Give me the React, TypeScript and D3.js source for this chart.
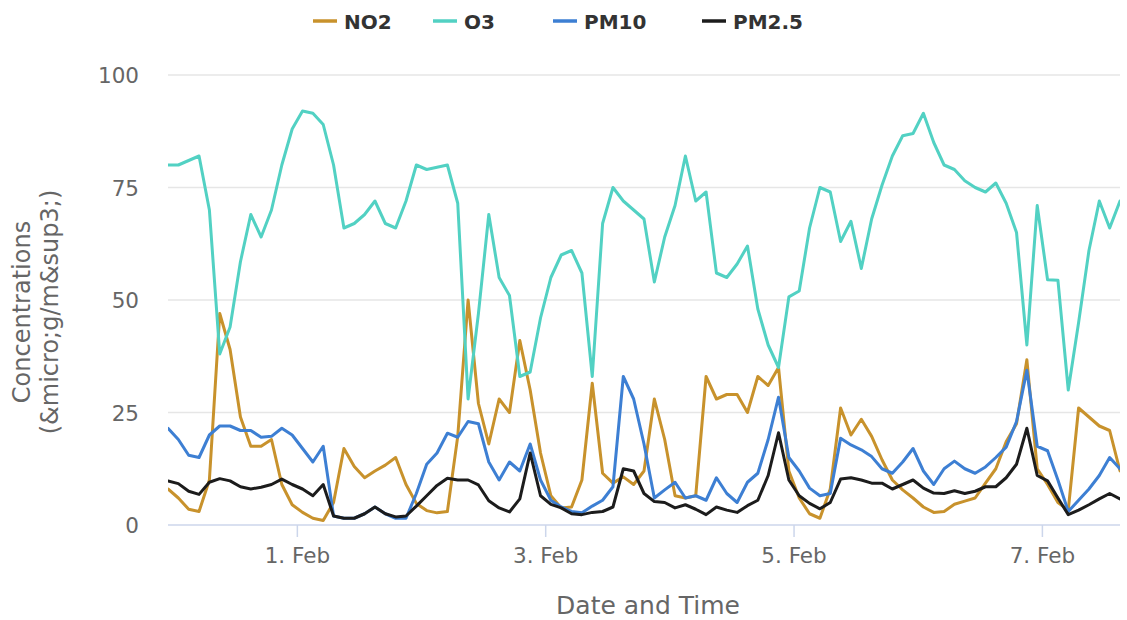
import React from "react";
import * as d3 from "d3";

const START = Date.UTC(2019, 0, 30, 23, 0, 0);
const STEP_H = 2;
const END = Date.UTC(2019, 1, 7, 15, 0, 0);

const seriesNames = ["NO2", "O3", "PM10", "PM2.5"];
const seriesColors = ["#c8922c", "#52d1c3", "#3d7fd3", "#1c1c1c"];

const no2 = [8, 6, 3.5, 3, 10, 47, 39, 24, 17.5, 17.5, 19, 9, 4.5, 2.8, 1.5, 1, 5, 17, 13, 10.5, 12, 13.3, 15, 9, 4.8, 3.2, 2.7, 3, 19.7, 50, 27, 18, 28, 25, 41, 30, 16, 6.5, 3.8, 4, 10, 31.5, 11.5, 9.3, 10.7, 9, 12, 28, 19, 6.5, 6, 6.5, 33, 28, 29, 29, 25, 33, 31, 35, 12, 6, 2.5, 1.5, 8, 26, 20, 23.5, 19.7, 14.5, 10, 7.8, 6, 4, 2.8, 3, 4.6, 5.3, 6, 9.3, 12.5, 18.5, 22.5, 36.7, 12.5, 9, 5, 3.3, 26, 24, 22, 21, 12];

const o3 = [80, 80, 81, 82, 70, 38, 44, 58.5, 69, 64, 70, 80, 88, 92, 91.5, 89, 80, 66, 67, 69, 72, 67, 66, 72, 80, 79, 79.5, 80, 71.5, 28, 47, 69, 55, 51, 33, 34, 46, 55, 60, 61, 56, 33, 67, 75, 72, 70, 68, 54, 64, 71, 82, 72, 74, 56, 55, 58, 62, 48, 40, 35, 50.7, 52, 66, 75, 74, 63, 67.5, 57, 68, 75.5, 82, 86.5, 87, 91.5, 85, 80, 79, 76.5, 75, 74, 76, 71.5, 65, 40, 71, 54.5, 54.4, 30, 45, 61, 72, 66, 72];

const pm10 = [21.5, 19, 15.5, 15, 20, 22, 22, 21, 21, 19.5, 19.7, 21.5, 20, 17, 14, 17.5, 2, 1.5, 1.5, 2.5, 4, 2.5, 1.5, 1.5, 7, 13.5, 16, 20.4, 19.5, 23, 22.5, 14, 10, 14, 12, 18, 10, 5.5, 4, 3, 2.7, 4.2, 5.5, 8.5, 33, 28, 18, 6, 7.8, 9.5, 6, 6.5, 5.5, 10.5, 7, 5, 9.5, 11.5, 19, 28.4, 15, 12, 8.2, 6.5, 7, 19.3, 17.8, 16.7, 15.2, 12.5, 11.5, 14, 17, 12, 9, 12.5, 14.2, 12.5, 11.5, 12.9, 15, 17.3, 23, 34.4, 17.5, 16.5, 10, 3, 5.5, 8, 11, 15, 12.5];

const pm25 = [9.8, 9.2, 7.5, 6.8, 9.5, 10.3, 9.8, 8.5, 8, 8.4, 9, 10.2, 9, 8, 6.5, 9, 2, 1.5, 1.5, 2.5, 4, 2.5, 1.8, 2, 4.2, 6.5, 8.8, 10.4, 10, 10, 8.9, 5.4, 3.8, 2.9, 5.8, 16, 6.5, 4.6, 3.8, 2.5, 2.3, 2.8, 3, 4, 12.5, 12, 7, 5.2, 5, 3.8, 4.5, 3.5, 2.3, 4, 3.3, 2.8, 4.3, 5.5, 11, 20.5, 10, 6.5, 4.8, 3.6, 5, 10.2, 10.5, 10, 9.3, 9.3, 8, 9, 10, 8.2, 7.1, 7, 7.6, 7, 7.5, 8.5, 8.5, 10.5, 13.5, 21.5, 11, 9.8, 6, 2.3, 3.3, 4.5, 5.8, 7, 5.8];

const yTicks = [0, 25, 50, 75, 100];
const xTickDates = [Date.UTC(2019, 1, 1), Date.UTC(2019, 1, 3), Date.UTC(2019, 1, 5), Date.UTC(2019, 1, 7)];
const xTickLabels = ["1. Feb", "3. Feb", "5. Feb", "7. Feb"];

const W = 1127;
const H = 620;
const M = { left: 168, right: 1120, top: 75, bottom: 525 };
const FONT = "'DejaVu Sans', sans-serif";

export default function App() {
  const x = d3.scaleUtc().domain([new Date(START), new Date(END)]).range([M.left, M.right]);
  const y = d3.scaleLinear().domain([0, 100]).range([M.bottom, M.top]);
  const allSeries = [no2, o3, pm10, pm25];
  const line = d3
    .line<number>()
    .x((_, i) => x(new Date(START + i * STEP_H * 3600 * 1000)))
    .y((d) => y(d));

  const legendX = [313, 433, 553, 702];

  return (
    <svg
      width={W}
      height={H}
      style={{ position: "absolute", left: 0, top: 0, background: "#fff" }}
      fontFamily={FONT}
    >
      <defs>
        <clipPath id="plotclip">
          <rect x={M.left} y={M.top - 10} width={M.right - M.left} height={M.bottom - M.top + 20} />
        </clipPath>
      </defs>
      {yTicks.map((t) => (
        <line key={t} x1={M.left} x2={M.right} y1={y(t)} y2={y(t)} stroke={t === 0 ? "#ccd6eb" : "#e6e6e6"} strokeWidth={1.5} />
      ))}
      {yTicks.map((t) => (
        <text key={"l" + t} x={139} y={y(t) + 8} textAnchor="end" fontSize={21.5} fill="#666">
          {t}
        </text>
      ))}
      {xTickDates.map((d, i) => (
        <g key={d}>
          <line x1={x(new Date(d))} x2={x(new Date(d))} y1={M.bottom} y2={M.bottom + 12} stroke="#ccd6eb" strokeWidth={1.5} />
          <text x={x(new Date(d))} y={M.bottom + 38} textAnchor="middle" fontSize={21.5} fill="#666">
            {xTickLabels[i]}
          </text>
        </g>
      ))}
      <text x={(M.left + M.right) / 2 + 4} y={614} textAnchor="middle" fontSize={25} fill="#666">
        Date and Time
      </text>
      <g transform={`translate(30, ${(M.top + M.bottom) / 2 + 12}) rotate(-90)`}>
        <text x={0} y={0} textAnchor="middle" fontSize={24} fill="#666">
          Concentrations
        </text>
        <text x={0} y={28} textAnchor="middle" fontSize={24} fill="#666">
          (&amp;micro;g/m&amp;sup3;)
        </text>
      </g>
      <g clipPath="url(#plotclip)">
        {allSeries.map((s, k) => (
          <path key={k} d={line(s) || ""} fill="none" stroke={seriesColors[k]} strokeWidth={3} strokeLinejoin="round" strokeLinecap="round" />
        ))}
      </g>
      {seriesNames.map((n, k) => (
        <g key={n}>
          <line x1={legendX[k]} x2={legendX[k] + 24} y1={21} y2={21} stroke={seriesColors[k]} strokeWidth={3.5} />
          <text x={legendX[k] + 31} y={28.5} fontSize={20} fontWeight="bold" fill="#333">
            {n}
          </text>
        </g>
      ))}
    </svg>
  );
}
